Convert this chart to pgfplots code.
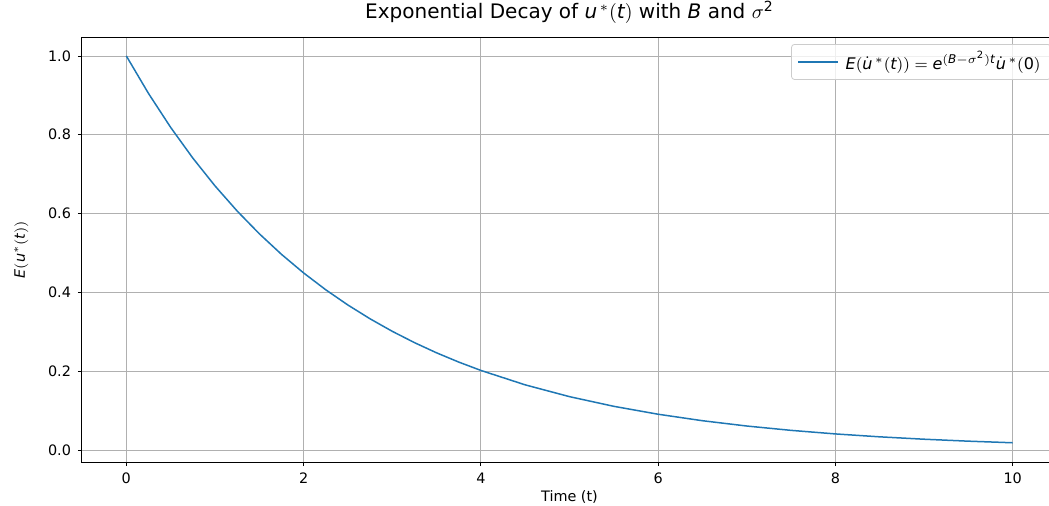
\documentclass[border=0pt]{standalone}
\usepackage{pgfplots}
\pgfplotsset{compat=1.18}
\usepackage{fontspec}
\setmainfont{DejaVu Sans}
\definecolor{mplblue}{HTML}{1F77B4}
\definecolor{gridgray}{HTML}{B0B0B0}
\begin{document}
\begin{tikzpicture}
\clip (-41pt,-21.5pt) rectangle (483.5pt,231pt);
\begin{axis}[
  scale only axis,
  width=487.5pt, height=212.5pt,
  xmin=-0.5, xmax=10.5,
  ymin=-0.0305, ymax=1.048,
  xtick={0,2,4,6,8,10},
  ytick={0,0.2,0.4,0.6,0.8,1.0},
  yticklabel style={/pgf/number format/.cd, fixed, fixed zerofill, precision=1},
  /pgf/number format/assume math mode=true,
  tick label style={font=\fontsize{7.2}{8}\selectfont},
  label style={font=\fontsize{7.2}{8}\selectfont},
  grid=major,
  grid style={gridgray, line width=0.4pt},
  axis line style={black, line width=0.5pt},
  tick align=outside,
  tick pos=left,
  major tick length=2pt,
  tick style={black, line width=0.4pt},
  xlabel={Time (t)},
  ylabel={$\mathit{E}\mathrm{(}\mathit{u}^{*}\mathrm{(}\mathit{t}\mathrm{))}$},
  ylabel style={yshift=3pt},
  xlabel style={yshift=3.5pt},
  title={Exponential Decay of $\mathit{u}^{\,*}\mathrm{(}\mathit{t}\mathrm{)}$ with $\mathit{B}$ and $\sigma^{\mathrm{2}}$},
  title style={font=\fontsize{10}{12}\selectfont, yshift=-3pt},
  legend style={at={(rel axis cs:1,1)}, anchor=north east, xshift=-3pt, yshift=-3.5pt,
    draw=gray!40, fill=white, fill opacity=0.8, text opacity=1, rounded corners=1.5pt,
    font=\fontsize{8}{9}\selectfont, inner xsep=3pt, inner ysep=1.5pt},
  legend image code/.code={\draw[#1] (0pt,0pt) -- (20pt,0pt);},
  /tikz/every even column/.append style={column sep=2pt},
]
\addplot[mplblue, line width=0.75pt] coordinates {
(0,1.000000) (0.25,0.904837) (0.5,0.818731) (0.75,0.740818) (1,0.670320)
(1.25,0.606531) (1.5,0.548812) (1.75,0.496585) (2,0.449329) (2.25,0.406570)
(2.5,0.367879) (2.75,0.332871) (3,0.301194) (3.25,0.272532) (3.5,0.246597)
(3.75,0.223130) (4,0.201897) (4.5,0.165299) (5,0.135335) (5.5,0.110803)
(6,0.090718) (6.5,0.074274) (7,0.060810) (7.5,0.049787) (8,0.040762)
(8.5,0.033373) (9,0.027324) (9.5,0.022371) (10,0.018316)
};
\addlegendentry{\,$\mathit{E}\mathrm{(}\dot{\mathit{u}}^{\,*}\mathrm{(}\mathit{t}\mathrm{))} = \mathit{e}^{\mathrm{(}\mathit{B}-\sigma^{\mathrm{2}}\mathrm{)}\mathit{t}}\dot{\mathit{u}}^{\,*}\mathrm{(0)}$}
\end{axis}
\end{tikzpicture}
\end{document}
